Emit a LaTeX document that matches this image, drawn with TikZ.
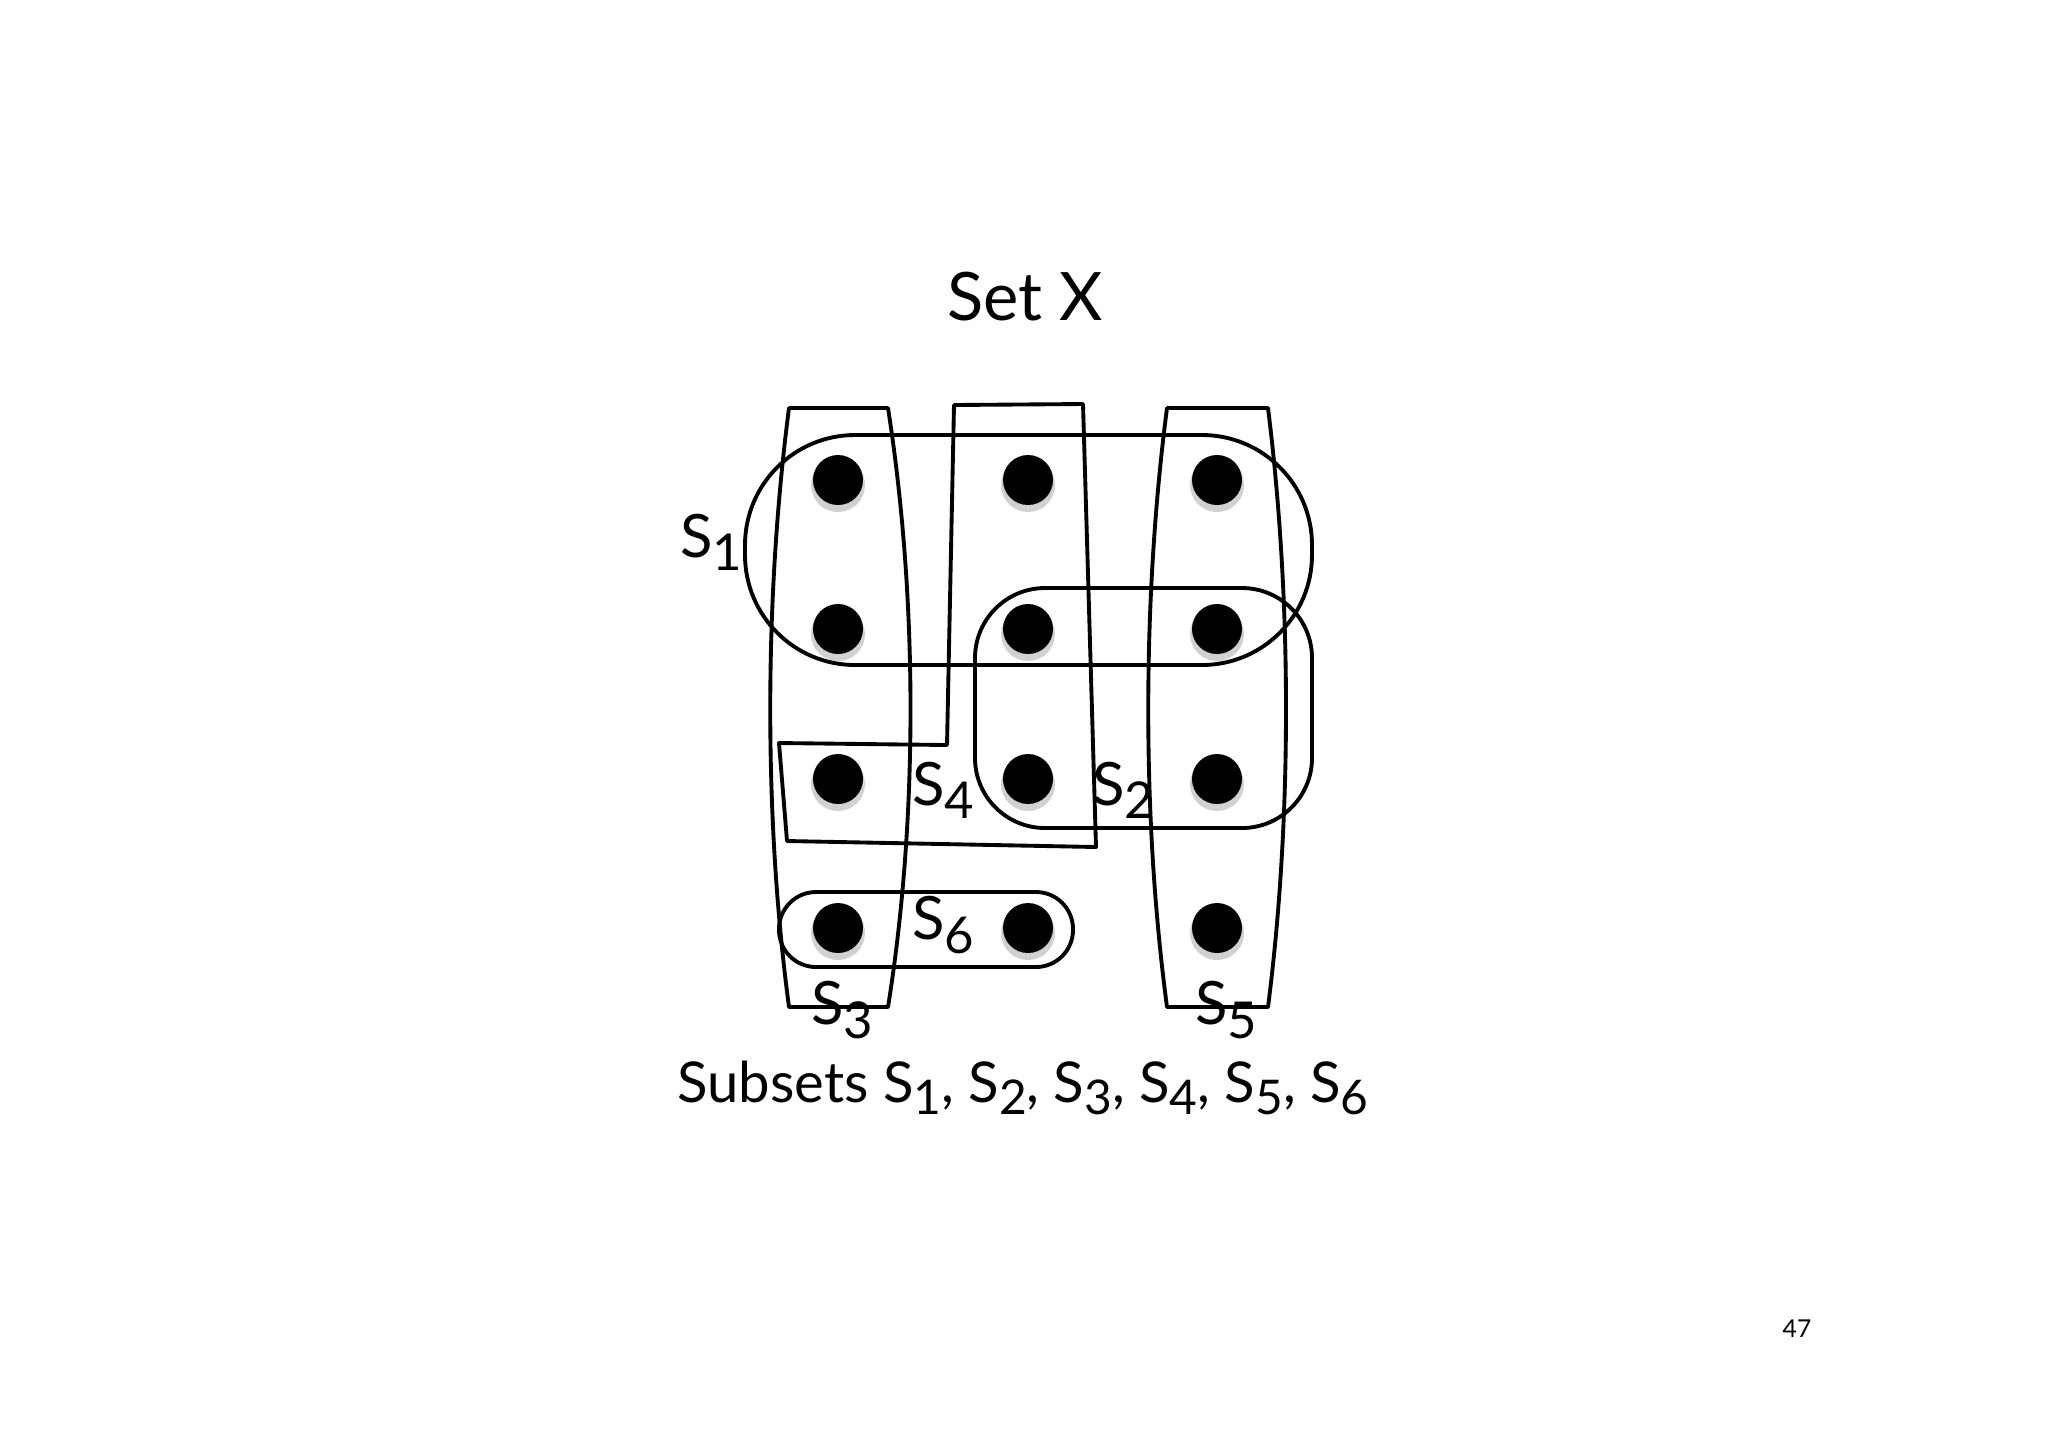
\documentclass[tikz,border=0pt]{standalone}
\usepackage{fontspec}
\setmainfont{Lato}
\newcommand{\subn}[1]{\raisebox{-0.22em}{\scalebox{0.85}{#1}}}
\begin{document}
\begin{tikzpicture}[x=0.01cm,y=-0.01cm,
  setline/.style={line width=1.1pt,line join=round},
  lbl/.style={font=\fontsize{17}{17}\selectfont,inner sep=0pt},
  dotshadow/.style={fill=black!30,draw=none,opacity=0.6},
  dotfill/.style={fill=black,draw=none}]
\useasboundingbox (0,0) rectangle (2048,1447);
\foreach \c/\x in {a/838,b/1028,c/1217}{
  \foreach \r/\y in {1/480,2/629,3/779,4/928}{
    \fill[dotshadow] (\x,\y+5) circle (27);
    \node[dotfill,circle,minimum size=50*0.01cm,inner sep=0pt] (d\c\r) at (\x,\y) {};
  }}
% S1
\draw[setline,rounded corners=1.1cm] (745,435) rectangle (1312,665);
% S2
\draw[setline,rounded corners=0.7cm] (975,588) rectangle (1312,828);
% S3
\draw[setline] (789,408) -- (888,408) .. controls (918,600) and (918,820) .. (888,1007) -- (789,1007) .. controls (764,820) and (764,600) .. (789,408) -- cycle;
% S5
\draw[setline] (1167,408) -- (1268,408) .. controls (1292,600) and (1292,820) .. (1268,1007) -- (1167,1007) .. controls (1142,820) and (1142,600) .. (1167,408) -- cycle;
% S4
\draw[setline] (954,405) -- (1083,404) -- (1096,847) -- (787,841) -- (779,743) -- (947,745) -- cycle;
% S6
\draw[setline,rounded corners=0.37cm] (779,892) rectangle (1073,967);
\node[lbl] (l1) at (711,542) {S\subn{1}};
\node[lbl] (l4) at (943,790) {S\subn{4}};
\node[lbl] (l2) at (1123,790) {S\subn{2}};
\node[lbl] (l6) at (943,925) {S\subn{6}};
\node[lbl] (l3) at (842,1010) {S\subn{3}};
\node[lbl] (l5) at (1226,1010) {S\subn{5}};
\node[lbl,font=\fontsize{19}{19}\selectfont] (t) at (1025,297) {Set X};
\node[lbl,font=\fontsize{16}{16}\selectfont] (s) at (1023,1088) {Subsets S\subn{1}, S\subn{2}, S\subn{3}, S\subn{4}, S\subn{5}, S\subn{6}};
\node[font=\fontsize{7}{7}\selectfont,inner sep=0pt] (n) at (1797,1329) {47};
\end{tikzpicture}
\end{document}
